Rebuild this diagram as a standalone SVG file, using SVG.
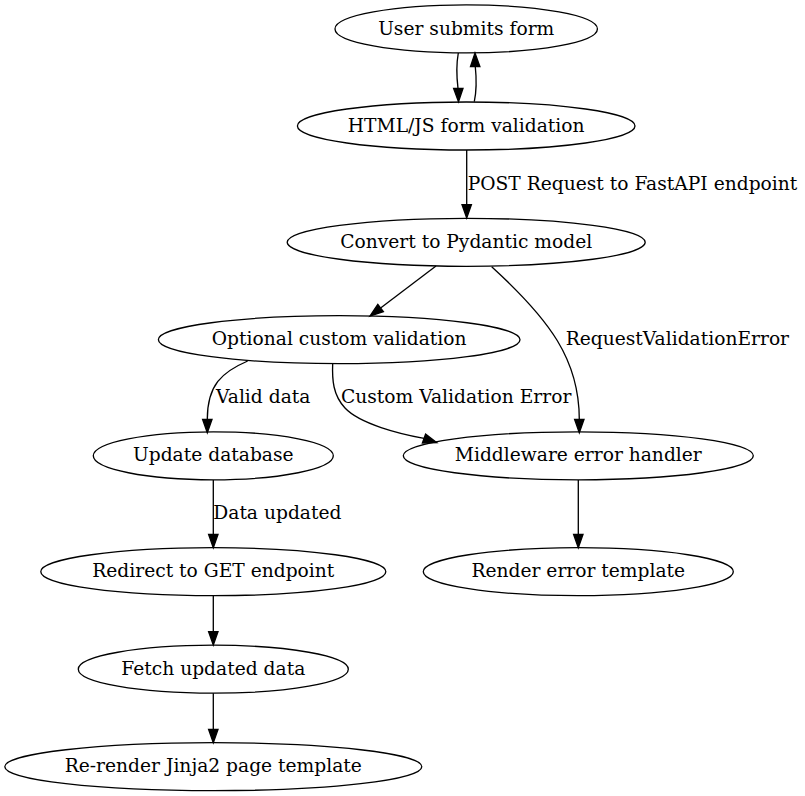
<svg xmlns="http://www.w3.org/2000/svg" width="805" height="796" viewBox="0 0 805 796">
<style>
.n ellipse{fill:none;stroke:#000;stroke-width:1.33}
text{font-family:"DejaVu Serif","Liberation Serif",serif;font-size:18.67px;fill:#000}
.n text{text-anchor:middle}
.e path{fill:none;stroke:#000;stroke-width:1.33}
.e polygon{fill:#000;stroke:#000;stroke-width:1.33}
</style>
<rect width="805" height="796" fill="#fff"/>
<g id="edges" class="e">
<path d="M458.3,53 C456.5,63 456.5,76 458,88.3"/>
<polygon points="453.6,88.3 463,88.3 458.5,101.7"/>
<path d="M474.3,101.7 C476.5,91 476.5,78 475.3,66.7"/>
<polygon points="470.5,66.7 479.9,66.7 475,53"/>
<path d="M466.7,150 L466.7,204.7"/>
<polygon points="462,204.7 471.4,204.7 466.7,218"/>
<text x="467.7" y="190">POST Request to FastAPI endpoint</text>
<path d="M436,266 L380.6,308"/>
<polygon points="383.4,311.7 377.8,304.3 370,316"/>
<path d="M491.7,266.7 C550,320 579.3,360 579.3,419.3"/>
<polygon points="574.6,419.3 584,419.3 579.3,432.7"/>
<text x="565.7" y="344.7">RequestValidationError</text>
<path d="M247.7,361 C222,372 207.3,385 207.3,419.3"/>
<polygon points="202.6,419.3 212,419.3 207.3,432.7"/>
<text x="216" y="402.7">Valid data</text>
<path d="M332.7,363 C332,380 333,395 345,408 C360,424 400,434 424,438.3"/>
<polygon points="422.4,443 425.6,434.2 436.7,442.7"/>
<text x="341" y="402.7">Custom Validation Error</text>
<path d="M213.3,480 L213.3,534.3"/>
<polygon points="208.6,534.3 218,534.3 213.3,547.7"/>
<text x="213.3" y="519.3">Data updated</text>
<path d="M578.3,480 L578.3,534.3"/>
<polygon points="573.6,534.3 583,534.3 578.3,547.7"/>
<path d="M213.3,595.7 L213.3,631.7"/>
<polygon points="208.6,631.7 218,631.7 213.3,645"/>
<path d="M213.3,693.3 L213.3,729.3"/>
<polygon points="208.6,729.3 218,729.3 213.3,742.7"/>
</g>
<g id="n1" class="n"><ellipse cx="466.2" cy="28.9" rx="131.2" ry="24"/><text x="466.2" y="34.5">User submits form</text></g>
<g id="n2" class="n"><ellipse cx="466.2" cy="126" rx="168.8" ry="24"/><text x="466.2" y="131.6">HTML/JS form validation</text></g>
<g id="n3" class="n"><ellipse cx="466.2" cy="242.3" rx="179" ry="24"/><text x="466.2" y="247.9">Convert to Pydantic model</text></g>
<g id="n4" class="n"><ellipse cx="339.2" cy="339.7" rx="180.8" ry="24"/><text x="339.2" y="345.3">Optional custom validation</text></g>
<g id="n5" class="n"><ellipse cx="213.3" cy="455.8" rx="120" ry="24"/><text x="213.3" y="461.4">Update database</text></g>
<g id="n6" class="n"><ellipse cx="578.3" cy="455.8" rx="175" ry="24"/><text x="578.3" y="461.4">Middleware error handler</text></g>
<g id="n7" class="n"><ellipse cx="213.3" cy="571.7" rx="172.5" ry="24"/><text x="213.3" y="577.3">Redirect to GET endpoint</text></g>
<g id="n8" class="n"><ellipse cx="578.3" cy="571.7" rx="155" ry="24"/><text x="578.3" y="577.3">Render error template</text></g>
<g id="n9" class="n"><ellipse cx="213.3" cy="669.2" rx="135" ry="24"/><text x="213.3" y="674.8">Fetch updated data</text></g>
<g id="n10" class="n"><ellipse cx="213.3" cy="766.7" rx="208.5" ry="24"/><text x="213.3" y="772.3">Re-render Jinja2 page template</text></g>
</svg>
